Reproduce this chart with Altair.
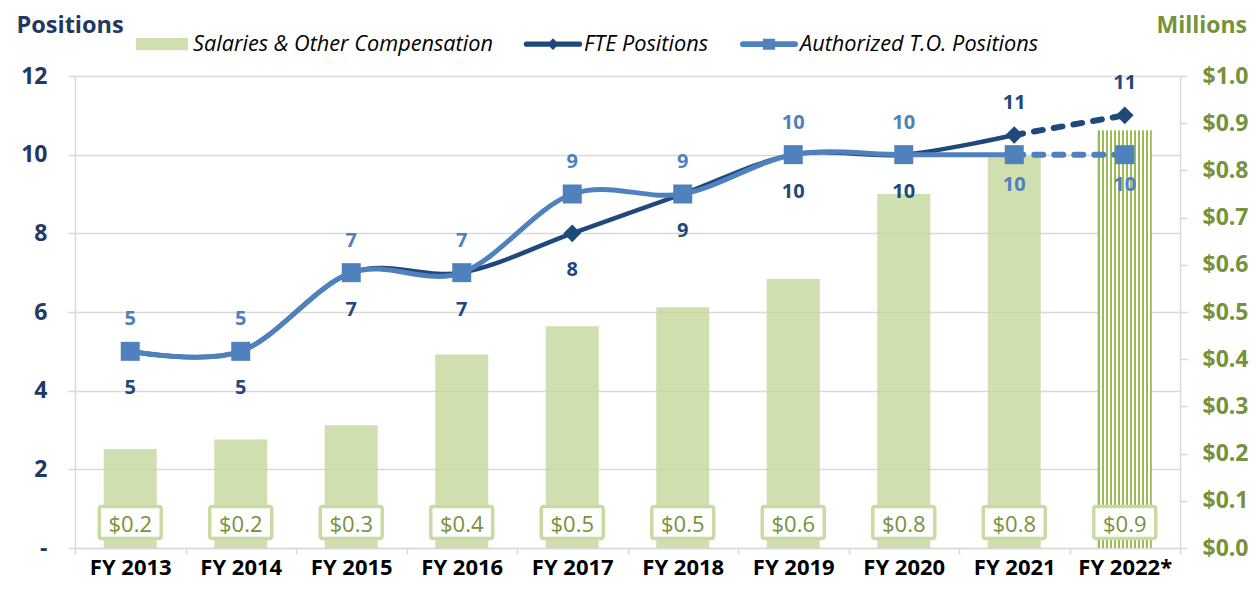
import altair as alt
import pandas as pd

# ---------------- data ----------------
years = ["FY 2013", "FY 2014", "FY 2015", "FY 2016", "FY 2017",
         "FY 2018", "FY 2019", "FY 2020", "FY 2021", "FY 2022*"]
salaries = [0.21, 0.23, 0.26, 0.41, 0.47, 0.51, 0.57, 0.75, 0.83, 0.885]
salary_labels = ["$0.2", "$0.2", "$0.3", "$0.4", "$0.5",
                 "$0.5", "$0.6", "$0.8", "$0.8", "$0.9"]
fte_positions = [5, 5, 7, 7, 8, 9, 10, 10, 10.5, 11]
fte_labels = ["5", "5", "7", "7", "8", "9", "10", "10", "11", "11"]
to_positions = [5, 5, 7, 7, 9, 9, 10, 10, 10, 10]
to_labels = ["5", "5", "7", "7", "9", "9", "10", "10", "10", "10"]
series_names = ["Salaries & Other Compensation", "FTE Positions",
                "Authorized T.O. Positions"]
left_ticks = [0, 2, 4, 6, 8, 10, 12]
right_ticks = [0.0, 0.1, 0.2, 0.3, 0.4, 0.5, 0.6, 0.7, 0.8, 0.9, 1.0]

# ---------------- styles ----------------
FONT = "Open Sans"
NAVY_TXT = "#1f3864"
FTE_C = "#1f497d"
TO_C = "#4f81bd"
GREEN_TXT = "#76923c"
BAR_C = "#c4d79b"
HATCH_C = "#9bbb59"
BOX_C = "#c9daa3"
GRID_C = "#d9d9d9"

projected = [y.endswith("*") for y in years]
last_actual = projected.index(True) - 1

df_bars = pd.DataFrame({
    "year": years, "sal": salaries, "sal_lab": salary_labels,
    "base": [0.0] * len(years), "proj": projected,
})

rows = []
for i, y in enumerate(years):
    f, t = fte_positions[i], to_positions[i]
    rows.append({"i": i, "year": y, "series": "FTE", "value": f,
                 "label": fte_labels[i], "pos": "above" if f > t else "below"})
    rows.append({"i": i, "year": y, "series": "TO", "value": t,
                 "label": to_labels[i], "pos": "above" if t >= f else "below"})
df_pts = pd.DataFrame(rows)
df_solid = df_pts[df_pts["i"] <= last_actual]
df_dash = df_pts[df_pts["i"] >= last_actual]

# hatch gradient (vertical stripes)
n_units = 27
stops = []
for k in range(n_units):
    c = HATCH_C if k % 2 == 0 else "#ffffff"
    stops.append(alt.GradientStop(offset=k / n_units, color=c))
    stops.append(alt.GradientStop(offset=(k + 1) / n_units, color=c))
hatch = alt.LinearGradient(gradient="linear", x1=0, x2=1, y1=0, y2=0, stops=stops)

# ---------------- axes / scales ----------------
x_axis = alt.Axis(title=None, labelAngle=0, labelFont=FONT, labelFontSize=22,
                  labelFontWeight="bold", labelColor="#000000",
                  domainColor=GRID_C, domainWidth=1.5, tickColor=GRID_C,
                  tickWidth=1.5, tickSize=6, tickBand="extent", labelPadding=3,
                  grid=False)
X = alt.X("year:N", sort=years,
          scale=alt.Scale(paddingInner=0, paddingOuter=0), axis=x_axis)

right_axis = alt.Axis(orient="right", values=right_ticks, format="$.1f",
                      labelFont=FONT, labelFontSize=23, labelFontWeight="bold",
                      labelColor=GREEN_TXT, domainColor=GRID_C, domainWidth=1.5,
                      tickColor=GRID_C, tickWidth=1.5, tickSize=7, labelPadding=15,
                      grid=False, title="Millions", titleAngle=0, titleAlign="left",
                      titleBaseline="alphabetic", titleX=-24, titleY=-44,
                      titleFont=FONT, titleFontSize=23, titleFontWeight="bold",
                      titleColor=GREEN_TXT)
Y_R = alt.Y("sal:Q", scale=alt.Scale(domain=[0, 1], nice=False, zero=True),
            axis=right_axis)
Y_R0 = alt.Y("base:Q", scale=alt.Scale(domain=[0, 1], nice=False, zero=True),
             axis=right_axis)

left_axis = alt.Axis(orient="left", values=left_ticks,
                     labelExpr="datum.value == 0 ? '-\u00a0\u00a0' : datum.label",
                     labelFont=FONT, labelFontSize=23, labelFontWeight="bold",
                     labelColor=NAVY_TXT, domainColor=GRID_C, domainWidth=1.5,
                     tickColor=GRID_C, tickWidth=1.5, tickSize=7, labelPadding=21,
                     grid=True, gridColor=GRID_C, gridWidth=1.5,
                     title="Positions", titleAngle=0, titleAlign="left",
                     titleBaseline="alphabetic", titleX=-59, titleY=-44,
                     titleFont=FONT, titleFontSize=23.5, titleFontWeight="bold",
                     titleColor=NAVY_TXT)
Y_L = alt.Y("value:Q", scale=alt.Scale(domain=[0, 12], nice=False, zero=True),
            axis=left_axis)

# ---------------- bars group ----------------
base_b = alt.Chart(df_bars)
bars = base_b.mark_bar(width=alt.RelativeBandSize(0.48), color=BAR_C,
                       opacity=0.8).encode(x=X, y=Y_R).transform_filter(
    "!datum.proj")
bars_h = base_b.mark_bar(width=alt.RelativeBandSize(0.49), fill=hatch).encode(
    x=X, y=Y_R).transform_filter("datum.proj")
box_path = ("M-0.92,-0.516H0.92Q1,-0.516,1,-0.436V0.436Q1,0.516,0.92,0.516"
            "H-0.92Q-1,0.516,-1,0.436V-0.436Q-1,-0.516,-0.92,-0.516Z")
boxes = base_b.mark_point(shape=box_path, size=3844, filled=True, fill="#ffffff",
                          stroke=BOX_C, strokeWidth=3.5, opacity=1,
                          yOffset=-25.5).encode(x=X, y=Y_R0)
box_txt = base_b.mark_text(font=FONT, fontSize=22, color=GREEN_TXT,
                           baseline="alphabetic", dy=-16).encode(
    x=X, y=Y_R0, text="sal_lab:N")
bars_group = alt.layer(bars, bars_h, boxes, box_txt)

# ---------------- lines group ----------------
def line_layer(df, series, color, width, dash=None):
    kw = dict(color=color, strokeWidth=width)
    if dash:
        kw.update(strokeDash=dash, strokeCap="round", interpolate="linear")
    else:
        kw.update(interpolate="cardinal", strokeCap="round")
    return alt.Chart(df).mark_line(**kw).encode(x=X, y=Y_L, order="i:Q").transform_filter(
        alt.datum.series == series)

fte_line = line_layer(df_solid, "FTE", FTE_C, 4.5)
fte_dash = line_layer(df_dash, "FTE", FTE_C, 6, [9, 11])
to_line = line_layer(df_solid, "TO", TO_C, 5)
to_dash = line_layer(df_dash, "TO", TO_C, 6, [9, 11])

fte_pts = alt.Chart(df_pts).mark_point(shape="diamond", size=310, filled=True,
                                       color=FTE_C, opacity=1).encode(
    x=X, y=Y_L).transform_filter(alt.datum.series == "FTE")
to_pts = alt.Chart(df_pts).mark_point(shape="square", size=361, filled=True,
                                      color=TO_C, opacity=1).encode(
    x=X, y=Y_L).transform_filter(alt.datum.series == "TO")

def label_layer(series, pos, color, dy):
    return alt.Chart(df_pts).mark_text(font=FONT, fontSize=20, fontWeight="bold",
                                       color=color, baseline="alphabetic",
                                       dy=dy).encode(
        x=X, y=Y_L, text="label:N").transform_filter(
        (alt.datum.series == series) & (alt.datum.pos == pos))

lab_fte_a = label_layer("FTE", "above", FTE_C, -26)
lab_fte_b = label_layer("FTE", "below", FTE_C, 43)
lab_to_a = label_layer("TO", "above", TO_C, -26)
lab_to_b = label_layer("TO", "below", TO_C, 36)

# legend (symbols only, invisible in plot)
leg_paths = [
    "M-0.9,-0.21H0.9V0.21H-0.9Z",
    "M-0.92,-0.09H0.92A0.09,0.09,0,0,1,0.92,0.09H-0.92A0.09,0.09,0,0,1,-0.92,-0.09Z"
    "M0,-0.2L0.2,0L0,0.2L-0.2,0Z",
    "M-0.9,-0.1H0.9A0.1,0.1,0,0,1,0.9,0.1H-0.9A0.1,0.1,0,0,1,-0.9,-0.1Z"
    "M-0.21,-0.19H0.21V0.19H-0.21Z",
]
leg = alt.Legend(title=None, orient="none", legendX=58, legendY=-61,
                 direction="horizontal", symbolSize=3364, symbolOpacity=1,
                 symbolStrokeWidth=0, labelFont=FONT, labelFontSize=21.7,
                 labelFontStyle="italic", labelColor="#000000", labelOffset=2,
                 columnPadding=30, padding=0, labelLimit=400)
legend_layer = alt.Chart(pd.DataFrame({"series": series_names})).mark_point(
    filled=True, opacity=0).encode(
    color=alt.Color("series:N", scale=alt.Scale(
        domain=series_names, range=["#d0dfaf", FTE_C, TO_C]), legend=leg),
    shape=alt.Shape("series:N", scale=alt.Scale(
        domain=series_names, range=leg_paths), legend=leg),
)

lines_group = alt.layer(fte_line, fte_dash, fte_pts, to_line, to_dash, to_pts,
                        lab_fte_a, lab_fte_b, lab_to_a, lab_to_b, legend_layer)

chart = alt.layer(bars_group, lines_group).resolve_scale(y="independent").properties(
    width=1105, height=472,
    autosize=alt.AutoSizeParams(type="none"),
    padding={"left": 67, "top": 68, "right": 71, "bottom": 33},
).configure_view(strokeWidth=0).configure(font=FONT)

chart.save("out.html", embed_options={"renderer": "svg", "actions": False})
